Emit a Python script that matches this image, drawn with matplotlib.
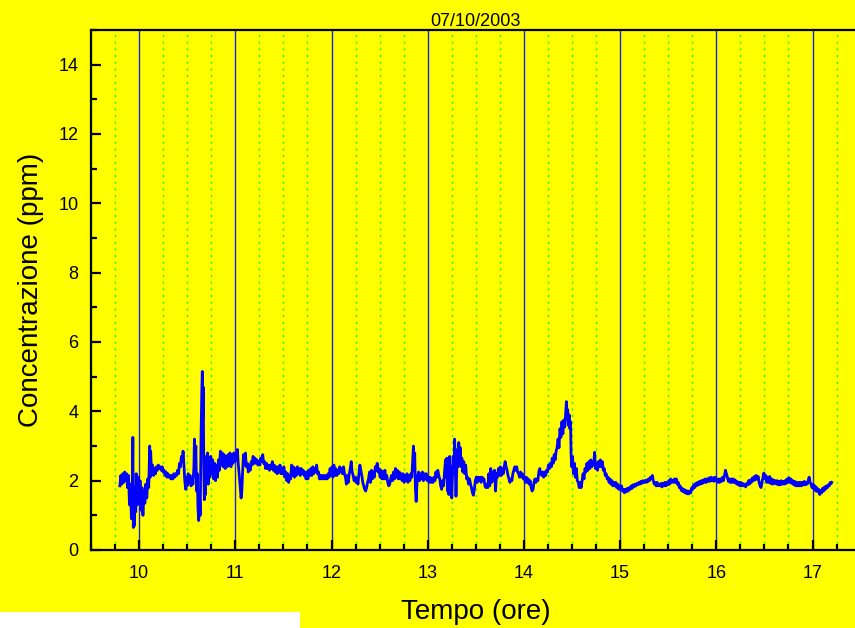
import matplotlib
matplotlib.use("Agg")
import matplotlib.pyplot as plt
from matplotlib.ticker import MultipleLocator, FixedLocator
from matplotlib.patches import Rectangle

# Concentration log for 07/10/2003: time of day (hours) and concentration (ppm)
hours = [
    9.800, 9.810, 9.820, 9.830, 9.840, 9.850, 9.860, 9.870, 9.880, 9.890,
    9.900, 9.910, 9.920, 9.930, 9.935, 9.940, 9.945, 9.950, 9.960, 9.965,
    9.970, 9.980, 9.990, 10.000, 10.010, 10.020, 10.030, 10.040, 10.050, 10.060,
    10.070, 10.080, 10.090, 10.100, 10.110, 10.115, 10.120, 10.130, 10.140, 10.150,
    10.160, 10.170, 10.180, 10.190, 10.200, 10.210, 10.220, 10.230, 10.240, 10.250,
    10.260, 10.270, 10.280, 10.290, 10.300, 10.310, 10.320, 10.330, 10.340, 10.350,
    10.360, 10.370, 10.380, 10.390, 10.400, 10.410, 10.420, 10.430, 10.440, 10.450,
    10.457, 10.465, 10.475, 10.485, 10.490, 10.500, 10.510, 10.520, 10.530, 10.540,
    10.550, 10.560, 10.570, 10.575, 10.582, 10.590, 10.597, 10.605, 10.612, 10.620,
    10.628, 10.635, 10.645, 10.652, 10.657, 10.662, 10.667, 10.672, 10.678, 10.684,
    10.690, 10.697, 10.704, 10.712, 10.720, 10.728, 10.735, 10.745, 10.755, 10.765,
    10.775, 10.785, 10.795, 10.805, 10.815, 10.825, 10.835, 10.845, 10.855, 10.865,
    10.875, 10.885, 10.895, 10.905, 10.915, 10.925, 10.935, 10.945, 10.955, 10.965,
    10.975, 10.985, 10.995, 11.005, 11.015, 11.022, 11.030, 11.040, 11.050, 11.060,
    11.068, 11.075, 11.085, 11.095, 11.105, 11.115, 11.125, 11.135, 11.145, 11.155,
    11.165, 11.175, 11.185, 11.195, 11.205, 11.215, 11.225, 11.235, 11.245, 11.255,
    11.265, 11.275, 11.285, 11.295, 11.305, 11.315, 11.325, 11.335, 11.345, 11.355,
    11.365, 11.375, 11.385, 11.395, 11.405, 11.415, 11.425, 11.435, 11.445, 11.455,
    11.465, 11.475, 11.485, 11.495, 11.505, 11.515, 11.525, 11.535, 11.545, 11.555,
    11.565, 11.575, 11.585, 11.595, 11.605, 11.615, 11.625, 11.635, 11.645, 11.655,
    11.665, 11.675, 11.685, 11.695, 11.705, 11.715, 11.725, 11.735, 11.745, 11.755,
    11.765, 11.775, 11.785, 11.795, 11.805, 11.815, 11.825, 11.835, 11.845, 11.855,
    11.865, 11.875, 11.885, 11.895, 11.905, 11.915, 11.925, 11.935, 11.945, 11.955,
    11.965, 11.975, 11.985, 11.995, 12.005, 12.015, 12.025, 12.035, 12.045, 12.055,
    12.065, 12.075, 12.085, 12.095, 12.105, 12.115, 12.125, 12.135, 12.145, 12.155,
    12.165, 12.175, 12.185, 12.195, 12.205, 12.215, 12.225, 12.235, 12.245, 12.255,
    12.265, 12.275, 12.285, 12.295, 12.305, 12.315, 12.325, 12.335, 12.345, 12.355,
    12.365, 12.375, 12.385, 12.395, 12.405, 12.415, 12.425, 12.435, 12.445, 12.455,
    12.465, 12.475, 12.485, 12.495, 12.505, 12.515, 12.525, 12.535, 12.545, 12.555,
    12.565, 12.575, 12.585, 12.595, 12.605, 12.615, 12.625, 12.635, 12.645, 12.655,
    12.665, 12.675, 12.685, 12.695, 12.705, 12.715, 12.725, 12.735, 12.745, 12.755,
    12.765, 12.775, 12.785, 12.795, 12.805, 12.815, 12.825, 12.835, 12.845, 12.852,
    12.858, 12.865, 12.872, 12.880, 12.888, 12.895, 12.905, 12.915, 12.925, 12.935,
    12.945, 12.955, 12.965, 12.975, 12.985, 12.995, 13.005, 13.015, 13.025, 13.035,
    13.045, 13.055, 13.065, 13.075, 13.085, 13.095, 13.105, 13.115, 13.125, 13.135,
    13.145, 13.155, 13.165, 13.175, 13.185, 13.192, 13.199, 13.206, 13.213, 13.220,
    13.228, 13.235, 13.242, 13.250, 13.258, 13.265, 13.272, 13.280, 13.287, 13.294,
    13.301, 13.308, 13.316, 13.323, 13.331, 13.339, 13.347, 13.355, 13.365, 13.375,
    13.385, 13.395, 13.405, 13.415, 13.425, 13.435, 13.445, 13.455, 13.465, 13.475,
    13.485, 13.495, 13.505, 13.515, 13.525, 13.535, 13.545, 13.555, 13.565, 13.575,
    13.585, 13.595, 13.605, 13.615, 13.625, 13.635, 13.645, 13.655, 13.665, 13.675,
    13.685, 13.695, 13.705, 13.715, 13.725, 13.735, 13.745, 13.755, 13.765, 13.775,
    13.785, 13.795, 13.805, 13.815, 13.825, 13.835, 13.845, 13.855, 13.865, 13.875,
    13.885, 13.895, 13.905, 13.915, 13.925, 13.935, 13.945, 13.955, 13.965, 13.975,
    13.985, 13.995, 14.005, 14.015, 14.025, 14.035, 14.045, 14.055, 14.065, 14.075,
    14.085, 14.095, 14.105, 14.115, 14.125, 14.135, 14.145, 14.155, 14.165, 14.175,
    14.185, 14.195, 14.205, 14.215, 14.225, 14.235, 14.245, 14.255, 14.265, 14.275,
    14.285, 14.295, 14.305, 14.315, 14.325, 14.335, 14.345, 14.355, 14.365, 14.375,
    14.385, 14.395, 14.405, 14.415, 14.425, 14.435, 14.442, 14.448, 14.455, 14.462,
    14.470, 14.478, 14.485, 14.490, 14.497, 14.505, 14.515, 14.525, 14.535, 14.545,
    14.555, 14.565, 14.575, 14.585, 14.595, 14.605, 14.615, 14.625, 14.635, 14.645,
    14.655, 14.665, 14.675, 14.685, 14.695, 14.705, 14.715, 14.725, 14.735, 14.745,
    14.755, 14.765, 14.775, 14.785, 14.795, 14.805, 14.815, 14.825, 14.835, 14.845,
    14.855, 14.865, 14.875, 14.885, 14.895, 14.905, 14.915, 14.925, 14.935, 14.945,
    14.955, 14.965, 14.975, 14.985, 14.995, 15.005, 15.015, 15.025, 15.035, 15.045,
    15.055, 15.065, 15.075, 15.085, 15.095, 15.105, 15.115, 15.125, 15.135, 15.145,
    15.155, 15.165, 15.175, 15.185, 15.195, 15.205, 15.215, 15.225, 15.235, 15.245,
    15.255, 15.265, 15.275, 15.285, 15.295, 15.305, 15.315, 15.325, 15.335, 15.345,
    15.355, 15.365, 15.375, 15.385, 15.395, 15.405, 15.415, 15.425, 15.435, 15.445,
    15.455, 15.465, 15.475, 15.485, 15.495, 15.505, 15.515, 15.525, 15.535, 15.545,
    15.555, 15.565, 15.575, 15.585, 15.595, 15.605, 15.615, 15.625, 15.635, 15.645,
    15.655, 15.665, 15.675, 15.685, 15.695, 15.705, 15.715, 15.725, 15.735, 15.745,
    15.755, 15.765, 15.775, 15.785, 15.795, 15.805, 15.815, 15.825, 15.835, 15.845,
    15.855, 15.865, 15.875, 15.885, 15.895, 15.905, 15.915, 15.925, 15.935, 15.945,
    15.955, 15.965, 15.975, 15.985, 15.995, 16.005, 16.015, 16.025, 16.035, 16.045,
    16.055, 16.065, 16.075, 16.085, 16.095, 16.105, 16.115, 16.125, 16.135, 16.145,
    16.155, 16.165, 16.175, 16.185, 16.195, 16.205, 16.215, 16.225, 16.235, 16.245,
    16.255, 16.265, 16.275, 16.285, 16.295, 16.305, 16.315, 16.325, 16.335, 16.345,
    16.355, 16.365, 16.375, 16.385, 16.395, 16.405, 16.415, 16.425, 16.435, 16.445,
    16.455, 16.465, 16.475, 16.485, 16.495, 16.505, 16.515, 16.525, 16.535, 16.545,
    16.555, 16.565, 16.575, 16.585, 16.595, 16.605, 16.615, 16.625, 16.635, 16.645,
    16.655, 16.665, 16.675, 16.685, 16.695, 16.705, 16.715, 16.725, 16.735, 16.745,
    16.755, 16.765, 16.775, 16.785, 16.795, 16.805, 16.815, 16.825, 16.835, 16.845,
    16.855, 16.865, 16.875, 16.885, 16.895, 16.905, 16.915, 16.925, 16.935, 16.945,
    16.955, 16.965, 16.975, 16.985, 16.995, 17.005, 17.015, 17.025, 17.035, 17.045,
    17.055, 17.065, 17.075, 17.085, 17.095, 17.105, 17.115, 17.125, 17.135, 17.145,
    17.155, 17.165, 17.175, 17.185, 17.195, 17.200,
]

ppm = [
    1.85, 2.15, 1.90, 2.20, 1.95, 2.25, 2.00, 2.20, 1.80, 2.15,
    1.30, 1.90, 0.90, 1.60, 3.25, 0.65, 1.50, 0.70, 1.80, 1.10,
    2.20, 1.30, 2.10, 1.40, 2.00, 1.15, 1.80, 1.00, 1.70, 1.35,
    1.90, 1.50, 2.05, 1.80, 3.00, 2.10, 2.85, 2.20, 2.45, 2.15,
    2.35, 2.20, 2.40, 2.30, 2.45, 2.35, 2.40, 2.30, 2.40, 2.25,
    2.30, 2.15, 2.25, 2.10, 2.20, 2.10, 2.15, 2.05, 2.15, 2.05,
    2.20, 2.10, 2.20, 2.15, 2.30, 2.20, 2.50, 2.40, 2.70, 2.55,
    2.85, 2.50, 2.00, 1.75, 2.10, 1.85, 2.20, 1.95, 2.15, 1.85,
    2.05, 1.90, 2.40, 3.20, 2.60, 3.00, 1.70, 2.20, 1.20, 0.85,
    1.60, 1.00, 3.50, 4.60, 5.15, 3.80, 4.70, 2.50, 1.45, 2.40,
    1.60, 2.70, 2.00, 2.80, 1.90, 2.60, 2.10, 2.70, 2.20, 2.60,
    2.05, 2.50, 2.00, 2.45, 2.10, 2.60, 2.30, 2.85, 2.45, 2.80,
    2.40, 2.75, 2.35, 2.70, 2.40, 2.75, 2.45, 2.80, 2.40, 2.75,
    2.50, 2.80, 2.55, 2.75, 2.60, 2.90, 2.50, 2.20, 1.85, 1.50,
    1.70, 2.20, 2.75, 2.45, 2.80, 2.40, 2.50, 2.25, 2.45, 2.30,
    2.55, 2.45, 2.70, 2.50, 2.65, 2.50, 2.60, 2.45, 2.55, 2.45,
    2.65, 2.55, 2.75, 2.50, 2.55, 2.35, 2.50, 2.35, 2.45, 2.30,
    2.45, 2.35, 2.55, 2.30, 2.45, 2.25, 2.40, 2.20, 2.40, 2.25,
    2.45, 2.20, 2.35, 2.20, 2.40, 2.10, 2.25, 2.00, 2.20, 1.95,
    2.15, 2.05, 2.45, 2.15, 2.40, 2.10, 2.35, 2.15, 2.40, 2.20,
    2.35, 2.15, 2.35, 2.20, 2.30, 2.15, 2.25, 2.05, 2.25, 2.05,
    2.30, 2.15, 2.35, 2.15, 2.40, 2.20, 2.35, 2.25, 2.45, 2.20,
    2.25, 2.05, 2.15, 2.05, 2.15, 2.05, 2.15, 2.05, 2.15, 2.05,
    2.20, 2.10, 2.35, 2.15, 2.40, 2.10, 2.45, 2.15, 2.35, 2.15,
    2.30, 2.20, 2.40, 2.25, 2.35, 2.20, 2.40, 2.20, 2.10, 1.90,
    2.15, 1.95, 2.20, 2.35, 2.55, 2.25, 2.15, 2.00, 2.10, 1.95,
    2.05, 1.90, 2.20, 2.45, 2.30, 2.15, 1.95, 1.85, 1.75, 1.70,
    1.80, 1.95, 2.05, 2.25, 1.95, 2.30, 2.05, 2.25, 2.10, 2.40,
    2.30, 2.50, 2.25, 2.35, 2.10, 2.30, 2.05, 2.25, 2.05, 2.30,
    2.05, 2.15, 1.95, 1.85, 1.90, 2.05, 2.15, 2.00, 2.25, 2.05,
    2.35, 2.10, 2.30, 2.05, 2.25, 2.05, 2.20, 2.00, 2.20, 1.95,
    2.15, 2.00, 2.20, 1.95, 2.15, 2.00, 2.20, 2.10, 2.60, 3.00,
    2.30, 2.80, 1.80, 1.40, 1.90, 2.10, 2.25, 2.00, 2.20, 2.05,
    2.25, 2.00, 2.20, 2.05, 2.20, 2.00, 2.10, 1.95, 2.10, 1.95,
    2.05, 1.95, 2.10, 2.00, 2.25, 2.10, 2.30, 2.15, 2.05, 1.85,
    1.75, 2.00, 1.85, 2.25, 2.60, 2.10, 2.65, 1.70, 2.50, 1.60,
    2.70, 1.90, 2.40, 1.50, 2.10, 2.70, 2.20, 3.20, 2.40, 1.55,
    2.20, 2.90, 2.40, 3.10, 2.60, 2.95, 2.40, 2.65, 2.25, 2.55,
    2.20, 2.45, 2.05, 2.10, 1.90, 2.05, 1.90, 1.80, 1.65, 1.58,
    1.75, 2.00, 2.10, 1.95, 2.10, 2.00, 2.10, 1.95, 2.10, 2.00,
    2.05, 1.85, 1.80, 1.90, 1.80, 2.20, 1.85, 2.35, 1.95, 2.25,
    2.00, 2.30, 1.70, 2.20, 2.10, 2.35, 2.15, 2.40, 2.15, 2.35,
    2.20, 2.40, 2.55, 2.40, 2.30, 2.15, 2.05, 1.95, 2.05, 2.00,
    2.20, 2.30, 2.40, 2.30, 2.40, 2.25, 2.20, 2.10, 2.25, 2.10,
    2.20, 2.05, 2.10, 1.95, 2.10, 1.95, 2.05, 1.90, 2.00, 1.80,
    1.70, 1.75, 1.95, 2.05, 1.95, 2.05, 2.00, 2.25, 2.35, 2.20,
    2.15, 2.25, 2.10, 2.25, 2.15, 2.30, 2.25, 2.45, 2.35, 2.50,
    2.40, 2.65, 2.50, 2.75, 2.60, 2.85, 2.95, 3.20, 2.95, 3.50,
    3.25, 3.70, 3.35, 3.75, 3.55, 4.00, 4.28, 3.85, 4.05, 3.60,
    3.90, 3.50, 3.70, 2.80, 2.40, 2.70, 2.20, 2.50, 2.10, 2.35,
    2.00, 1.95, 1.80, 1.95, 1.80, 2.00, 2.20, 2.05, 2.35, 2.25,
    2.50, 2.30, 2.55, 2.35, 2.60, 2.40, 2.55, 2.45, 2.82, 2.35,
    2.50, 2.30, 2.55, 2.40, 2.60, 2.40, 2.55, 2.30, 2.35, 2.15,
    2.20, 2.05, 2.10, 1.95, 2.05, 1.90, 2.00, 1.85, 1.95, 1.85,
    1.95, 1.80, 1.90, 1.75, 1.85, 1.75, 1.85, 1.70, 1.75, 1.65,
    1.75, 1.68, 1.78, 1.70, 1.80, 1.75, 1.85, 1.78, 1.88, 1.82,
    1.90, 1.85, 1.92, 1.88, 1.95, 1.90, 1.98, 1.92, 2.00, 1.95,
    2.00, 1.95, 2.02, 1.96, 2.05, 2.00, 2.10, 2.05, 2.15, 2.00,
    1.90, 1.95, 1.85, 1.95, 1.85, 1.90, 1.85, 1.92, 1.82, 1.92,
    1.85, 1.95, 1.85, 1.95, 1.88, 2.00, 1.90, 2.05, 1.95, 2.00,
    1.95, 2.05, 1.95, 2.05, 1.90, 1.95, 1.80, 1.85, 1.72, 1.78,
    1.68, 1.75, 1.65, 1.72, 1.62, 1.70, 1.62, 1.70, 1.65, 1.80,
    1.75, 1.88, 1.80, 1.92, 1.85, 1.95, 1.88, 1.98, 1.90, 2.00,
    1.92, 2.02, 1.95, 2.05, 1.95, 2.05, 1.98, 2.08, 1.98, 2.10,
    2.00, 2.08, 1.98, 2.10, 2.00, 2.05, 1.95, 2.05, 1.95, 2.05,
    1.98, 2.10, 2.00, 2.15, 2.30, 2.20, 2.10, 1.98, 2.05, 1.95,
    2.05, 1.95, 2.05, 1.95, 2.02, 1.92, 1.98, 1.88, 1.95, 1.85,
    1.95, 1.85, 1.92, 1.85, 1.90, 1.82, 1.92, 1.88, 2.00, 1.90,
    2.02, 1.95, 2.08, 2.00, 2.12, 2.02, 2.15, 2.05, 2.12, 1.95,
    1.85, 1.80, 1.95, 2.10, 2.22, 2.05, 2.15, 1.95, 2.10, 1.95,
    2.12, 1.92, 2.05, 1.90, 2.02, 1.92, 2.00, 1.90, 2.00, 1.88,
    1.98, 1.88, 2.00, 1.90, 1.98, 1.90, 2.00, 1.92, 2.05, 1.95,
    2.08, 1.95, 2.05, 1.92, 2.00, 1.88, 1.98, 1.85, 1.95, 1.85,
    1.95, 1.85, 1.95, 1.85, 1.95, 1.88, 1.98, 1.88, 1.95, 1.90,
    2.00, 2.10, 1.95, 1.90, 1.80, 1.90, 1.75, 1.85, 1.70, 1.80,
    1.68, 1.75, 1.60, 1.72, 1.65, 1.78, 1.70, 1.82, 1.75, 1.85,
    1.80, 1.88, 1.85, 1.95, 1.92, 1.95,
]

hour_ticks = [10, 11, 12, 13, 14, 15, 16, 17]
ppm_ticks = [0, 2, 4, 6, 8, 10, 12, 14]

title_text = "07/10/2003"
x_label = "Tempo (ore)"
y_label = "Concentrazione (ppm)"

YELLOW = "#FFFF00"

plt.rcParams["font.family"] = ["Liberation Sans", "DejaVu Sans"]

W, H = 855, 628
fig = plt.figure(figsize=(W / 100, H / 100), dpi=100, facecolor=YELLOW)

# axes box in pixels: left 91, top 30, bottom 550; 8 hours span ~770 px
left_px, top_px, bottom_px = 91, 30, 550
width_px = 769.6
ax = fig.add_axes([left_px / W, (H - bottom_px) / H,
                   width_px / W, (bottom_px - top_px) / H])
ax.set_facecolor(YELLOW)

ax.set_xlim(9.5, 17.5)
ax.set_ylim(0, 15)

ax.xaxis.set_major_locator(FixedLocator(hour_ticks))
ax.xaxis.set_minor_locator(MultipleLocator(0.25))
ax.yaxis.set_major_locator(FixedLocator(ppm_ticks))
ax.yaxis.set_minor_locator(MultipleLocator(1))

# vertical grid: solid blue at hours, dotted green at quarter hours
ax.grid(True, axis="x", which="minor", color="#22EE00",
        linestyle=(0, (1.5, 3.3)), linewidth=1.0)
ax.grid(True, axis="x", which="major", color="#2020D8",
        linestyle="-", linewidth=1.0)
ax.set_axisbelow(True)

ax.plot(hours, ppm, color="#0000FF", linewidth=2.0, zorder=3)

for side in ("left", "bottom", "top"):
    ax.spines[side].set_linewidth(1.6)
    ax.spines[side].set_color("black")
ax.spines["right"].set_visible(False)

ax.tick_params(which="both", direction="in", top=False, right=False,
               colors="black", labelsize=13)
ax.tick_params(which="major", length=7.5, width=1.6)
ax.tick_params(which="minor", length=4.5, width=1.6)
ax.tick_params(axis="x", which="major", pad=11)
ax.tick_params(axis="y", which="major", pad=9)

ax.set_title(title_text, fontsize=13, pad=3)
ax.set_xlabel(x_label, fontsize=20, labelpad=12)
ax.set_ylabel(y_label, fontsize=20, labelpad=10)

# blank strip in the lower-left corner
fig.patches.append(Rectangle((0, 0), 300 / W, 16 / H, transform=fig.transFigure,
                             facecolor="white", edgecolor="none", zorder=5))

fig.savefig("out.png", dpi=100, facecolor=YELLOW)
